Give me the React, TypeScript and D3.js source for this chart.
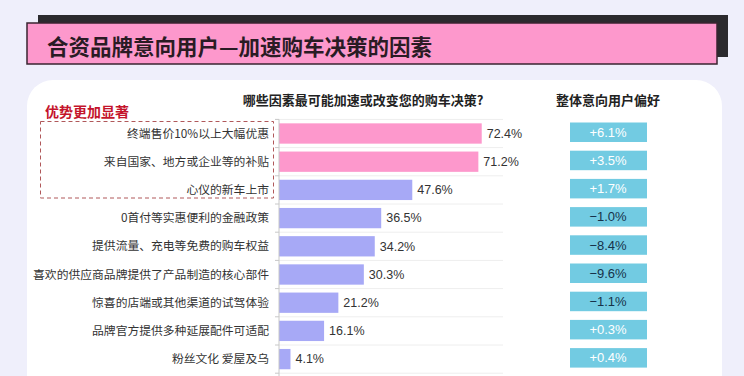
import React from "react";
import * as d3 from "d3";

const factors = [
  "终端售价10%以上大幅优惠",
  "来自国家、地方或企业等的补贴",
  "心仪的新车上市",
  "0首付等实惠便利的金融政策",
  "提供流量、充电等免费的购车权益",
  "喜欢的供应商品牌提供了产品制造的核心部件",
  "惊喜的店端或其他渠道的试驾体验",
  "品牌官方提供多种延展配件可适配",
  "粉丝文化 爱屋及乌",
];
const shares = [72.4, 71.2, 47.6, 36.5, 34.2, 30.3, 21.2, 16.1, 4.1];
const preference = [6.1, 3.5, 1.7, -1.0, -8.4, -9.6, -1.1, 0.3, 0.4];
const highlighted = 2; // first two bars are pink

const width = 744;
const height = 376;
const font = "'Noto Sans CJK SC', 'Noto Sans', sans-serif";

const App: React.FC = () => {
  const x = d3.scaleLinear().domain([0, 80]).range([279, 503]);
  const y = d3
    .scaleBand<string>()
    .domain(factors)
    .range([119.4, 373.2])
    .paddingInner(0.28)
    .paddingOuter(0.14);
  const step = y.step();
  const boundaries = d3.range(factors.length + 1).map((i) => 119.4 + i * step);
  const fmt = (v: number) => (v >= 0 ? "+" : "\u2212") + Math.abs(v).toFixed(1) + "%";

  return (
    <svg
      width={width}
      height={height}
      style={{ position: "absolute", left: 0, top: 0, display: "block" }}
      fontFamily={font}
    >
      <rect width={width} height={height} fill="#efeffb" />
      {/* title bar */}
      <rect x={38} y={15} width={690} height={42} fill="#2b2a2e" />
      <rect x={27} y={23} width={690} height={41} fill="#fd98cc" stroke="#3a2530" strokeWidth={1.5} />
      <text x={47} y={54.5} fontSize={21.5} fontWeight="bold" fill="#2a1b24">
        合资品牌意向用户—加速购车决策的因素
      </text>
      {/* card */}
      <rect x={27} y={80} width={695} height={340} rx={26} fill="#ffffff" />
      <text x={363} y={105} fontSize={13} fontWeight="bold" textAnchor="middle" fill="#222">
        哪些因素最可能加速或改变您的购车决策?
      </text>
      <text x={608} y={105} fontSize={13} fontWeight="bold" textAnchor="middle" fill="#222">
        整体意向用户偏好
      </text>
      <text x={45} y={117} fontSize={14} fontWeight="bold" fill="#c4142c">
        优势更加显著
      </text>
      <rect
        x={40.5}
        y={121.5}
        width={233}
        height={76.5}
        fill="none"
        stroke="#b0585a"
        strokeDasharray="4,3"
        strokeWidth={1}
      />
      {/* grid lines */}
      {boundaries.map((b, i) => (
        <g key={"g" + i}>
          <line x1={x(0)} x2={x(80)} y1={b} y2={b} stroke="#eeeeee" />
          <line x1={x(0) - 4} x2={x(0)} y1={b} y2={b} stroke="#c8c8c8" />
        </g>
      ))}
      {factors.map((f, i) => {
        const yy = y(f)!;
        const cy = yy + y.bandwidth() / 2;
        return (
          <g key={f}>
            <rect
              x={x(0)}
              y={yy}
              width={x(shares[i]) - x(0)}
              height={y.bandwidth()}
              fill={i < highlighted ? "#fd98cc" : "#a7a9f6"}
            />
            <text x={269} y={cy} dy="0.35em" fontSize={11.8} textAnchor="end" fill="#333">
              {f}
            </text>
            <text x={x(shares[i]) + 5} y={cy} dy="0.35em" fontSize={12.5} fill="#333" fontFamily="'Liberation Sans', Arial, sans-serif">
              {shares[i].toFixed(1)}%
            </text>
            <rect x={570} y={cy - 11} width={77} height={19.5} fill="#72cbe2" />
            <text
              x={608}
              y={cy - 1.3}
              dy="0.35em"
              fontSize={13}
              textAnchor="middle"
              fill={preference[i] >= 0 ? "#ffffff" : "#16324a"}
              fontFamily="'Liberation Sans', Arial, sans-serif"
            >
              {fmt(preference[i])}
            </text>
          </g>
        );
      })}
      <line x1={x(0)} x2={x(0)} y1={119.4} y2={376} stroke="#c8c8c8" />
    </svg>
  );
};

export default App;
